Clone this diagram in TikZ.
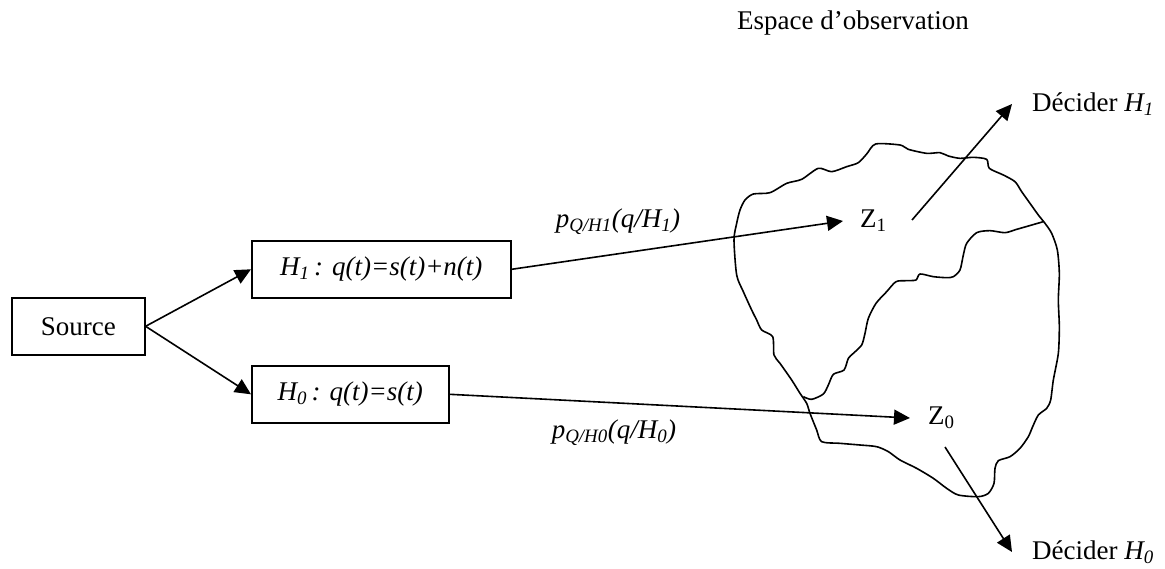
\documentclass[tikz,border=0pt]{standalone}
\usepackage{fontspec}
\setmainfont{Liberation Serif}
\usetikzlibrary{arrows.meta}
\begin{document}
\begin{tikzpicture}[x=1pt,y=-1pt,
  every node/.style={font=\fontsize{27}{32}\selectfont, inner sep=0pt},
  hypbox/.style={draw, line width=1.6pt, anchor=north west, inner sep=0pt},
  link/.style={line width=1.6pt, -{Triangle[length=16pt,width=15pt]}},
  edge/.style={line width=1.6pt, line join=round}]
\useasboundingbox (0,0) rectangle (1165,568);

% boxes
\node[hypbox, minimum width=133pt, minimum height=57pt] (src) at (11,297) {Source};
\node[hypbox, minimum width=259pt, minimum height=57pt] (h1) at (251,240)
  {\itshape H\textsubscript{1}\,: q(t)=s(t)+n(t)};
\node[hypbox, minimum width=197pt, minimum height=57pt] (h0) at (251,365)
  {\itshape H\textsubscript{0}\,: q(t)=s(t)};

% observation regions and decisions
\node[anchor=west, inner xsep=17pt] (z1) at (843,221) {Z\textsubscript{1}};
\node[anchor=west, inner xsep=18pt] (z0) at (910,418) {Z\textsubscript{0}};
\node[anchor=west, inner xsep=20pt] (d1) at (1012,104) {Décider \textit{H\textsubscript{1}}};
\node[anchor=west, inner xsep=20pt] (d0) at (1012,552) {Décider \textit{H\textsubscript{0}}};
\coordinate (d1s) at (912,220);
\coordinate (d0s) at (945,447);

% labels
\node (title) at (853,23) {Espace d’observation};
\node (p1) at (618,222) {\itshape p\textsubscript{Q/H1}(q/H\textsubscript{1})};
\node (p0) at (614,433) {\itshape p\textsubscript{Q/H0}(q/H\textsubscript{0})};

% connectors
\draw[link] (src.east) -- (h1.west);
\draw[link] (src.east) -- (h0.west);
\draw[link] (h1.east) -- (z1.west);
\draw[link] (h0.east) -- (z0.west);
\draw[link] (d1s) -- (d1.west);
\draw[link] (d0s) -- (d0.west);

% observation space outline and its partition
\begin{scope}[shift={(700,140)}, scale=1/3]
\draw[edge] plot[smooth cycle, tension=0.45] coordinates {
  (527,12) (600,15) (625,28) (680,40) (720,38) (745,48) (780,55) (820,52)
  (860,58) (868,85) (910,105) (945,125) (965,155) (990,190) (1015,225)
  (1035,250) (1055,280) (1072,330) (1078,400) (1075,480) (1078,560)
  (1075,640) (1060,720) (1052,780) (1040,805) (1015,825) (998,860)
  (985,890) (960,925) (930,950) (895,962) (885,985) (882,1030) (865,1060)
  (835,1070) (775,1065) (740,1045) (700,1015) (650,985) (600,960)
  (565,935) (530,920) (480,915) (420,910) (365,905) (350,870) (330,820)
  (320,790) (300,760) (275,720) (240,670) (222,645) (218,590) (185,570)
  (170,540) (155,510) (130,455) (110,405) (102,300) (110,250) (120,210)
  (135,180) (160,162) (210,158) (260,130) (305,118) (355,85) (395,95)
  (440,80) (475,68) (500,42)};
\draw[edge] plot[smooth, tension=0.45] coordinates {
  (1030,245) (985,258) (950,268) (915,278) (870,272) (830,278) (800,310)
  (790,345) (780,390) (760,410) (740,413) (700,410) (660,402) (648,420)
  (620,422) (588,425) (560,455) (528,490) (505,535) (495,580) (485,615)
  (460,640) (445,655) (432,690) (400,703) (385,735) (370,762) (335,778)
  (310,770)};
\end{scope}
\end{tikzpicture}
\end{document}
